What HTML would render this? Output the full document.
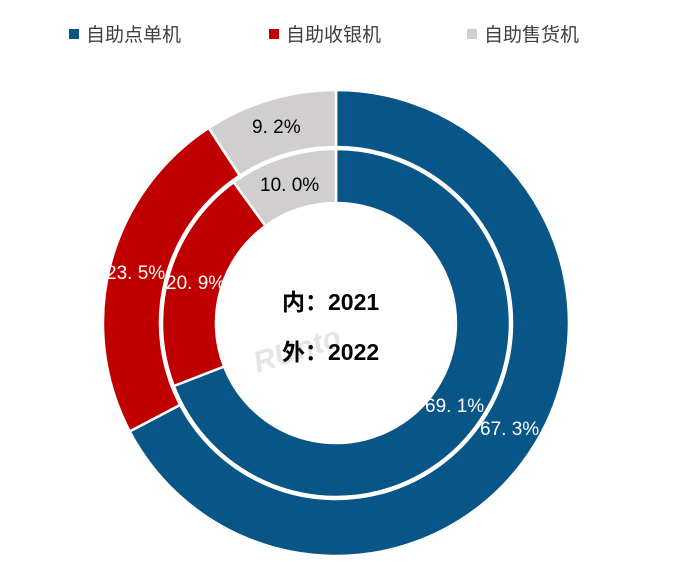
<!DOCTYPE html>
<html><head><meta charset="utf-8"><style>
body{margin:0;background:#fff;width:691px;height:568px;overflow:hidden}
svg{display:block}
text{font-family:"Liberation Sans","Noto Sans CJK SC",sans-serif}
</style></head><body>
<svg width="691" height="568" viewBox="0 0 691 568">
<rect x="69" y="29" width="10" height="10" fill="#085587"/>
<text x="86" y="41" font-size="19" fill="#404040">自助点单机</text>
<rect x="269" y="29" width="10" height="10" fill="#c00000"/>
<text x="286" y="41" font-size="19" fill="#404040">自助收银机</text>
<rect x="467" y="29" width="10" height="10" fill="#d0cece"/>
<text x="484" y="41" font-size="19" fill="#404040">自助售货机</text>
<g stroke="#fff" stroke-width="2.5">
<path d="M336 90 A233 233 0 1 1 129.7 431.4 L180.2 404.9 A176 176 0 1 0 336 147 Z" fill="#085587"/>
<path d="M129.7 431.4 A233 233 0 0 1 208.7 127.9 L239.8 175.6 A176 176 0 0 0 180.2 404.9 Z" fill="#c00000"/>
<path d="M208.7 127.9 A233 233 0 0 1 336 90 L336 147 A176 176 0 0 0 239.8 175.6 Z" fill="#d0cece"/>
<path d="M336 149 A174 174 0 1 1 173.8 386 L224.1 366.5 A120 120 0 1 0 336 203 Z" fill="#085587"/>
<path d="M173.8 386 A174 174 0 0 1 233.7 182.2 L265.5 225.9 A120 120 0 0 0 224.1 366.5 Z" fill="#c00000"/>
<path d="M233.7 182.2 A174 174 0 0 1 336 149 L336 203 A120 120 0 0 0 265.5 225.9 Z" fill="#d0cece"/>
</g>
<g font-size="30" font-weight="bold" fill="#ccc" opacity="0.5" transform="rotate(-18 340 320)">
<text x="245" y="345" font-style="italic">RUnto</text>
</g>
<g font-size="19" fill="#000">
<text x="252" y="133">9. 2%</text>
<text x="260" y="191">10. 0%</text>
</g>
<g font-size="19" fill="#fff">
<text x="106" y="279">23. 5%</text>
<text x="166" y="289">20. 9%</text>
<text x="425" y="412">69. 1%</text>
<text x="480" y="435">67. 3%</text>
</g>
<text x="282" y="310" font-size="23" font-weight="bold" fill="#000">内：2021</text>
<text x="282" y="360" font-size="23" font-weight="bold" fill="#000">外：2022</text>
</svg>
</body></html>
